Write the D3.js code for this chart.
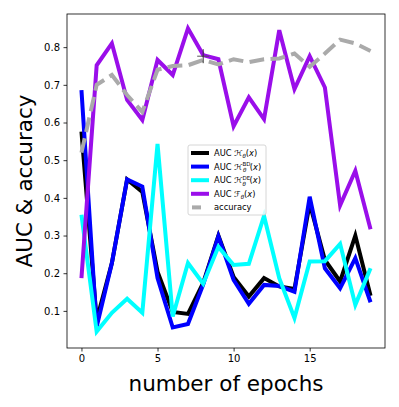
<!DOCTYPE html>
<html>
<head>
<meta charset="utf-8">
<script src="https://cdn.jsdelivr.net/npm/d3@7"></script>
<style>
  body { margin: 0; background: #fff; }
  text { font-family: "DejaVu Sans", sans-serif; }
</style>
</head>
<body>
<script>
// values
var epochs = d3.range(0, 20);
var aucH   = [0.576, 0.076, 0.227, 0.449, 0.416, 0.204, 0.097, 0.092, 0.174, 0.300,
              0.190, 0.138, 0.187, 0.165, 0.158, 0.385, 0.235, 0.178, 0.300, 0.140];
var aucHBD = [0.686, 0.058, 0.227, 0.449, 0.430, 0.187, 0.056, 0.065, 0.170, 0.298,
              0.182, 0.119, 0.169, 0.166, 0.151, 0.403, 0.213, 0.160, 0.240, 0.123];
var aucHDE = [0.355, 0.045, 0.095, 0.132, 0.095, 0.543, 0.085, 0.227, 0.172, 0.270,
              0.222, 0.225, 0.352, 0.187, 0.081, 0.231, 0.232, 0.278, 0.116, 0.213];
var aucF   = [0.187, 0.752, 0.810, 0.660, 0.607, 0.766, 0.726, 0.850, 0.779, 0.768,
              0.590, 0.667, 0.609, 0.845, 0.689, 0.776, 0.693, 0.380, 0.472, 0.317];
var accuracy = [0.520, 0.700, 0.726, 0.673, 0.628, 0.740, 0.750, 0.752, 0.766, 0.754,
                0.768, 0.760, 0.768, 0.770, 0.783, 0.748, 0.783, 0.820, 0.810, 0.790];
var xTicks = [0, 5, 10, 15];
var yTicks = [0.1, 0.2, 0.3, 0.4, 0.5, 0.6, 0.7, 0.8];

var W = 399, H = 407;
var L = 67, R = 385, T = 14, B = 348;

var svg = d3.select("body").append("svg")
    .attr("width", W).attr("height", H);

var x = d3.scaleLinear().domain([-0.95, 19.95]).range([L, R]);
var y = d3.scaleLinear().domain([0.0015, 0.888]).range([B, T]);

svg.append("clipPath").attr("id", "plotclip")
    .append("rect").attr("x", L).attr("y", T).attr("width", R - L).attr("height", B - T);

var series = [
    {vals: aucH, color: "#000000"},
    {vals: aucHBD, color: "#0000ff"},
    {vals: aucHDE, color: "#00ffff"},
    {vals: aucF, color: "#9a0eea"},
    {vals: accuracy, color: "#aaaaaa", dash: "14.8,6.4"}
];

var line = d3.line()
    .x(function(d, i) { return x(epochs[i]); })
    .y(function(d) { return y(d); });

var plot = svg.append("g").attr("clip-path", "url(#plotclip)");

series.forEach(function(s) {
    plot.append("path")
        .datum(s.vals)
        .attr("d", line)
        .attr("fill", "none")
        .attr("stroke", s.color)
        .attr("stroke-width", 4)
        .attr("stroke-dasharray", s.dash || null);
});

// small + marker near epoch 8
var mk = plot.append("g").attr("transform", "translate(" + x(8) + "," + y(0.776) + ")");
mk.append("line").attr("x1", -6).attr("x2", 6).attr("y1", 0).attr("y2", 0)
    .attr("stroke", "#555").attr("stroke-width", 1);
mk.append("line").attr("x1", 0).attr("x2", 0).attr("y1", -7).attr("y2", 7)
    .attr("stroke", "#333").attr("stroke-width", 1);

// axes
var xAxis = svg.append("g")
    .attr("transform", "translate(0," + B + ")")
    .call(d3.axisBottom(x).tickValues(xTicks).tickSize(3.5).tickPadding(3.5).tickFormat(d3.format("d")));
var yAxis = svg.append("g")
    .attr("transform", "translate(" + L + ",0)")
    .call(d3.axisLeft(y).tickValues(yTicks).tickSize(3.5).tickPadding(3.5).tickFormat(d3.format(".1f")));

[xAxis, yAxis].forEach(function(a) {
    a.select(".domain").remove();
    a.selectAll("text").attr("font-size", 10).attr("fill", "#000")
        .style("font-family", "DejaVu Sans");
    a.selectAll("line").attr("stroke", "#000").attr("stroke-width", 0.8);
});

svg.append("rect")
    .attr("x", L).attr("y", T).attr("width", R - L).attr("height", B - T)
    .attr("fill", "none").attr("stroke", "#000").attr("stroke-width", 0.8);

svg.append("text")
    .attr("x", (L + R) / 2).attr("y", 391)
    .attr("text-anchor", "middle")
    .attr("font-size", 21.5)
    .text("number of epochs");

svg.append("text")
    .attr("transform", "translate(32," + ((T + B) / 2) + ") rotate(-90)")
    .attr("text-anchor", "middle")
    .attr("font-size", 21.5)
    .text("AUC & accuracy");

// legend
var legX = 188, legY = 145;
var leg = svg.append("g").attr("transform", "translate(" + legX + "," + legY + ")");
leg.append("rect")
    .attr("x", 0).attr("y", 0).attr("width", 78).attr("height", 70)
    .attr("rx", 2)
    .attr("fill", "#fff").attr("fill-opacity", 0.8)
    .attr("stroke", "#ccc").attr("stroke-width", 0.8);

var labels = [
    {sym: "ℋ", sup: null},
    {sym: "ℋ", sup: "BD"},
    {sym: "ℋ", sup: "DE"},
    {sym: "ℱ", sup: null},
    {sym: null}
];

labels.forEach(function(lb, i) {
    var s = series[i];
    var yy = 8 + i * 13.6;
    leg.append("line")
        .attr("x1", s.dash ? 4 : 3).attr("x2", s.dash ? 13 : 21)
        .attr("y1", yy).attr("y2", yy)
        .attr("stroke", s.color).attr("stroke-width", 4);
    var t = leg.append("text")
        .attr("x", 26).attr("y", yy + 3)
        .attr("font-size", 8.3);
    if (lb.sym === null) {
        t.text("accuracy");
        return;
    }
    t.append("tspan").text("AUC ");
    t.append("tspan").text(lb.sym);
    if (lb.sup) {
        t.append("tspan").text(lb.sup).attr("font-size", 5.5).attr("dy", -3.5);
        t.append("tspan").text("θ").attr("font-size", 5.5).attr("font-style", "italic")
            .attr("dx", -7.5).attr("dy", 6);
        t.append("tspan").text("(").attr("dx", 3.5).attr("dy", -2.5);
    } else {
        t.append("tspan").text("θ").attr("font-size", 5.5).attr("font-style", "italic").attr("dy", 2);
        t.append("tspan").text("(").attr("dy", -2);
    }
    t.append("tspan").text("x").attr("font-style", "italic");
    t.append("tspan").text(")");
});
</script>
</body>
</html>
